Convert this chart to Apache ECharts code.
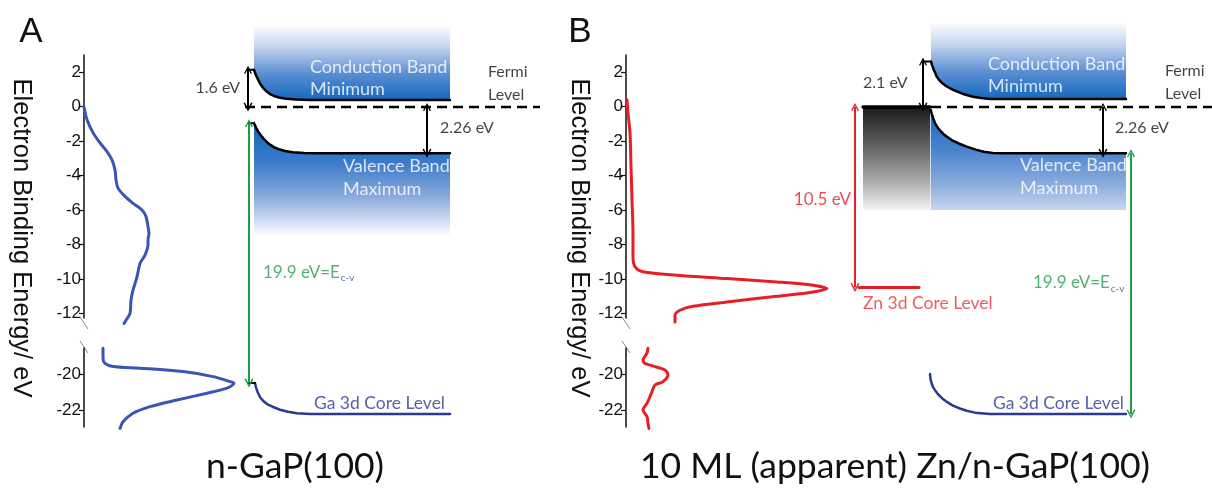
<!DOCTYPE html>
<html><head><meta charset="utf-8">
<script src="https://cdn.jsdelivr.net/npm/echarts@6/dist/echarts.min.js"></script>
<style>html,body{margin:0;padding:0;background:#fff}#c{width:1212px;height:488px}</style>
</head><body><div id="c"></div>
<script>
// ================= DATA =================
// Spectra: pairs [intensity (arb. units), electron binding energy (eV)]
const specA_valence = [[0,0],[3,-0.75],[9,-1.5],[16,-2.1],[23,-2.6],[28,-3.08],[31,-3.66],[32,-4.24],[34,-4.72],[41,-5.2],[49,-5.6],[58,-5.99],[62,-6.37],[64,-6.96],[65,-7.34],[64,-7.73],[64,-8.0],[61,-8.6],[56,-9.09],[53,-9.87],[49,-10.64],[47,-11.22],[46,-12.0],[42,-12.38],[40,-12.57]];
const specA_core = [[19,-18.54],[19,-19.1],[21,-19.39],[29,-19.57],[56,-19.66],[99,-19.85],[129,-20.13],[146,-20.41],[150,-20.5],[143,-20.78],[123,-21.06],[93,-21.44],[66,-21.81],[49,-22.18],[39,-22.66],[36,-23.03]];
const specB_valence = [[1,0.41],[2,-0.36],[4,-1.52],[5,-3.47],[6,-5.4],[7,-7.34],[7,-8.7],[9,-9.28],[17,-9.57],[51,-9.77],[101,-9.96],[151,-10.16],[187,-10.35],[201,-10.54],[187,-10.74],[151,-10.99],[101,-11.32],[67,-11.57],[54,-11.8],[49,-12.09],[49,-12.48]];
const specB_core = [[22,-18.54],[21,-18.82],[17,-19.2],[19,-19.39],[29,-19.57],[39,-19.76],[42,-20.04],[37,-20.41],[29,-20.6],[26,-20.97],[24,-21.25],[21,-21.62],[17,-22.0],[21,-22.37],[22,-22.75],[23,-23.03]];

// Tick labels
const ticksUpper = [-12,-10,-8,-6,-4,-2,0,2];
const ticksLower = [-22,-20];

// Band diagram (schematic): pairs [position across diagram, schematic energy]
const cbEdgeA  = [[170,2.16],[171,2.0],[172,1.85],[173,1.72],[174.5,1.54],[176,1.37],[178,1.2],[180,1.05],[183,0.88],[186,0.75],[190,0.64],[195,0.55],[202,0.48],[212,0.43],[226,0.41],[366,0.41]];
const cbTickA  = [[164,2.16],[170,2.16]];
const vbEdgeA  = [[170,-0.94],[171,-1.07],[172,-1.19],[173.5,-1.36],[175,-1.5],[177,-1.66],[179.5,-1.84],[182.5,-2.02],[186,-2.19],[190,-2.33],[195,-2.46],[201,-2.56],[209,-2.63],[220,-2.67],[232,-2.69],[366,-2.69]];
const vbTickA  = [[165,-0.94],[170,-0.94]];
const ga3dA    = [[171,-16.05],[172,-16.3],[173.5,-16.55],[176,-16.86],[179,-17.08],[183,-17.27],[189,-17.44],[196,-17.6],[204,-17.72],[213,-17.8],[226,-17.85],[366,-17.85]];
const ga3dTickA= [[164,-16.05],[171,-16.05]];
const fermiA   = [[161,0],[456,0]];

const cbEdgeB  = [[305,2.64],[306,2.45],[307.5,2.2],[309,2.0],[310.7,1.77],[313,1.58],[316,1.4],[320,1.22],[324,1.09],[330,0.92],[337,0.76],[347,0.6],[355,0.52],[364,0.47],[500,0.47]];
const cbTickB  = [[297,2.64],[305,2.64]];
const vbEdgeB  = [[304.7,-0.17],[305.7,-0.38],[307.2,-0.65],[309,-0.94],[311.7,-1.2],[314.7,-1.41],[317.7,-1.58],[320.7,-1.72],[325.7,-1.92],[332.7,-2.12],[340.7,-2.3],[349.7,-2.48],[357.7,-2.6],[366.7,-2.67],[374.7,-2.69],[500,-2.69]];
const metalB   = [[237,0],[304,0]];
const zn3dB    = [[233,-10.5],[293,-10.5]];
const ga3dB    = [[304,-15.53],[304.5,-15.8],[305.5,-16.05],[307,-16.28],[309,-16.46],[312,-16.7],[316,-16.93],[320.7,-17.14],[327,-17.36],[334,-17.53],[340.7,-17.66],[349,-17.77],[364,-17.85],[500,-17.85]];
const fermiB   = [[305,0],[586,0]];

// Arrows: [x, from, to]
const arrowsBlackA = [[164,2.16,0],[343,0,-2.69]];
const arrowGreenA  = [[165,-0.94,-16.05]];
const arrowsBlackB = [[297,2.64,0],[477,0,-2.69]];
const arrowRedB    = [[229,0,-10.5]];
const arrowGreenB  = [[505,-2.69,-17.85]];

// Texts
const panelTitles = ['n-GaP(100)', '10 ML (apparent) Zn/n-GaP(100)'];
const panelLetters = ['A','B'];
const yAxisTitle = 'Electron Binding Energy/ eV';

// ================= LAYOUT / STYLE =================
const FONT_AX = '"Liberation Sans", Arial, sans-serif';
const FONT_D = 'Lato, "Open Sans", sans-serif';
const AX = [84, 626];
const DIAG_W = [476, 586];
const TOP_Y = 55, TOP_H = 263, BOT_Y = 348, BOT_H = 79, DIAG_Y = 21, DIAG_H = 430;
const BLUE = '#3b55b3', RED = '#e61f27', GREEN = '#1f9a48', NAVY = '#2b3a90';
const ARROW = 'path://M0,10 L5,0 L10,10 L8.4,10.6 L5,3.4 L1.6,10.6 Z';

function grad(stops){return {type:'linear',x:0,y:0,x2:0,y2:1,colorStops:stops.map(s=>({offset:s[0],color:s[1]}))};}
const CB_GRAD = grad([[0,'#ffffff'],[0.3,'#c3d4ee'],[0.65,'#5b8ed2'],[1,'#1468bf']]);
const VB_GRAD_A = grad([[0,'#1468bf'],[0.35,'#3c7aca'],[0.65,'#89aadc'],[0.87,'#d2def2'],[1,'#ffffff']]);
const VB_GRAD_B = grad([[0,'#1468bf'],[0.4,'#4a83cd'],[0.75,'#8dadde'],[1,'#c8d6ee']]);
const GRAY_GRAD = grad([[0,'#1a1a1a'],[0.35,'#5c5c5c'],[0.72,'#ababab'],[1,'#f4f4f4']]);

const grids = [], xAxes = [], yAxes = [];
function addGrid(left, top, height, width, xmax, ymin, ymax, ticks){
  grids.push({left, top, height, width, containLabel:false});
  xAxes.push({type:'value', gridIndex:grids.length-1, min:0, max:xmax, show:false});
  if (ticks) {
    yAxes.push({type:'value', gridIndex:grids.length-1, min:ymin, max:ymax,
      axisLine:{show:true, onZero:false, lineStyle:{color:'#111', width:1.5}},
      axisTick:{show:true, length:5, customValues:ticks, lineStyle:{color:'#111', width:1.2}},
      axisLabel:{show:true, customValues:ticks, fontSize:17, color:'#111', fontFamily:FONT_AX, margin:3},
      splitLine:{show:false}});
  } else {
    yAxes.push({type:'value', gridIndex:grids.length-1, min:ymin, max:ymax, show:false});
  }
}
// Panel A: 0 upper, 1 lower, 2 diagram ; Panel B: 3,4,5
addGrid(AX[0], TOP_Y, TOP_H, 200, 200, -12.25, 3, ticksUpper);
addGrid(AX[0], BOT_Y, BOT_H, 200, 200, -22.95, -18.53, ticksLower);
addGrid(AX[0], DIAG_Y, DIAG_H, DIAG_W[0], DIAG_W[0], -20, 5, null);
addGrid(AX[1], TOP_Y, TOP_H, 220, 220, -12.25, 3, ticksUpper);
addGrid(AX[1], BOT_Y, BOT_H, 220, 220, -22.95, -18.53, ticksLower);
addGrid(AX[1], DIAG_Y, DIAG_H, DIAG_W[1], DIAG_W[1], -20, 5, null);

function line(gi, data, color, width, extra){
  return Object.assign({type:'line', xAxisIndex:gi, yAxisIndex:gi, data, showSymbol:false, symbol:'none',
    lineStyle:{color, width, join:'round', cap:'round'}, silent:true, animation:false, clip:false, z:3}, extra||{});
}
function area(gi, data, origin, fill, edgeColor, edgeWidth){
  return line(gi, data, edgeColor, edgeWidth, {areaStyle:{origin, color:fill, opacity:1}, z:2});
}
function arrows(gi, list, color){
  return {type:'lines', coordinateSystem:'cartesian2d', xAxisIndex:gi, yAxisIndex:gi, symbol:[ARROW,ARROW], symbolSize:[8,9],
    lineStyle:{color, width:2, opacity:1}, itemStyle:{color}, silent:true, animation:false, z:6,
    data:list.map(a=>({coords:[[a[0],a[1]],[a[0],a[2]]]}))};
}
const SUB = {sub:{fontSize:10, color:'#3d4a85', fontFamily:FONT_D, padding:[11,0,0,1]}};
function labels(gi, list){
  return {type:'scatter', xAxisIndex:gi, yAxisIndex:gi, symbolSize:0, silent:true, animation:false, z:10,
    data:list.map(l=>({value:[l[0],l[1]], label:{show:true, position:l[3]==='r'?'left':'right', distance:0,
      formatter:l[2], color:l[4], fontSize:l[5], fontFamily:FONT_D, lineHeight:l[6]||Math.round(l[5]*1.25), rich:SUB}}))};
}

const series = [
  // spectra
  line(0, specA_valence, BLUE, 3, {smooth:0.3}),
  line(1, specA_core, BLUE, 3, {smooth:0.3}),
  line(3, specB_valence, RED, 3, {smooth:0.3}),
  line(4, specB_core, RED, 3, {smooth:0.3}),
  // Panel A band diagram
  area(2, cbEdgeA, 4.78, CB_GRAD, '#000', 2.5),
  area(2, vbEdgeA, -7.5, VB_GRAD_A, '#000', 2.5),
  line(2, cbTickA, '#000', 2),
  line(2, vbTickA, '#000', 2),
  line(2, ga3dA, NAVY, 2.5),
  line(2, ga3dTickA, '#000', 2),
  line(2, fermiA, '#000', 2.5, {lineStyle:{color:'#000', width:2.5, type:[10,6]}, z:4}),
  arrows(2, arrowsBlackA, '#000'),
  arrows(2, arrowGreenA, GREEN),
  labels(2, [
    [156, 1.11, '1.6 eV', 'r', '#111', 16],
    [356, -1.22, '2.26 eV', 'l', '#111', 16],
    [404, 1.37, 'Fermi\nLevel', 'l', '#111', 16, 23],
    [226, 1.69, 'Conduction Band\nMinimum', 'l', '#ffffff', 18, 22],
    [259, -4.10, 'Valence Band\nMaximum', 'l', '#ffffff', 18, 23],
    [179, -9.6, '19.9 eV=E{sub|c-v}', 'l', '#2a9a55', 17],
    [361, -17.22, 'Ga 3d Core Level', 'r', NAVY, 17.5]
  ]),
  // Panel B band diagram
  area(5, cbEdgeB, 4.95, CB_GRAD, '#000', 2.5),
  area(5, vbEdgeB, -5.99, VB_GRAD_B, '#000', 2.5),
  line(5, cbTickB, '#000', 2),
  area(5, metalB, -5.99, GRAY_GRAD, '#000', 3.5),
  line(5, zn3dB, RED, 3),
  line(5, ga3dB, NAVY, 2.5),
  line(5, fermiB, '#000', 2.5, {lineStyle:{color:'#000', width:2.5, type:[10,6]}, z:4}),
  arrows(5, arrowsBlackB, '#000'),
  arrows(5, arrowRedB, RED),
  arrows(5, arrowGreenB, GREEN),
  labels(5, [
    [237, 1.40, '2.1 eV', 'l', '#111', 16],
    [489, -1.22, '2.26 eV', 'l', '#111', 16],
    [539, 1.43, 'Fermi\nLevel', 'l', '#111', 16, 23],
    [362, 1.84, 'Conduction Band\nMinimum', 'l', '#ffffff', 18, 22],
    [394, -4.04, 'Valence Band\nMaximum', 'l', '#ffffff', 18, 23],
    [225, -5.35, '10.5 eV', 'r', RED, 17],
    [237, -11.4, 'Zn 3d Core Level', 'l', '#e8343a', 17.5],
    [407, -10.23, '19.9 eV=E{sub|c-v}', 'l', '#2a9a55', 17],
    [498, -17.22, 'Ga 3d Core Level', 'r', NAVY, 17.5]
  ])
];

function txt(x, y, text, font, rot, color){
  return {type:'text', x, y, rotation:rot||0, silent:true,
    style:{text, font, fill:color||'#111', textAlign:'center', textVerticalAlign:'middle', align:'center', verticalAlign:'middle'}};
}
function brk(ax){
  return [
    {type:'line', silent:true, shape:{x1:ax-4, y1:TOP_Y+TOP_H-1, x2:ax+4, y2:TOP_Y+TOP_H+11}, style:{stroke:'#8a8a8a', lineWidth:1}},
    {type:'line', silent:true, shape:{x1:ax-4, y1:BOT_Y-7, x2:ax+4, y2:BOT_Y+5}, style:{stroke:'#8a8a8a', lineWidth:1}}
  ];
}
const graphic = [
  txt(31, 32, panelLetters[0], '35px ' + FONT_AX),
  txt(580, 32, panelLetters[1], '35px ' + FONT_AX),
  txt(21, 238, yAxisTitle, '25.5px ' + FONT_AX, -Math.PI/2),
  txt(579, 238, yAxisTitle, '25.5px ' + FONT_AX, -Math.PI/2),
  txt(295, 467, panelTitles[0], '35.5px ' + FONT_D),
  txt(895, 467, panelTitles[1], '35.5px ' + FONT_D),
  ...brk(AX[0]), ...brk(AX[1])
];

const chart = echarts.init(document.getElementById('c'), null, {renderer:'canvas', width:1212, height:488});
chart.setOption({animation:false, backgroundColor:'#ffffff', grid:grids, xAxis:xAxes, yAxis:yAxes, series, graphic});
</script></body></html>
